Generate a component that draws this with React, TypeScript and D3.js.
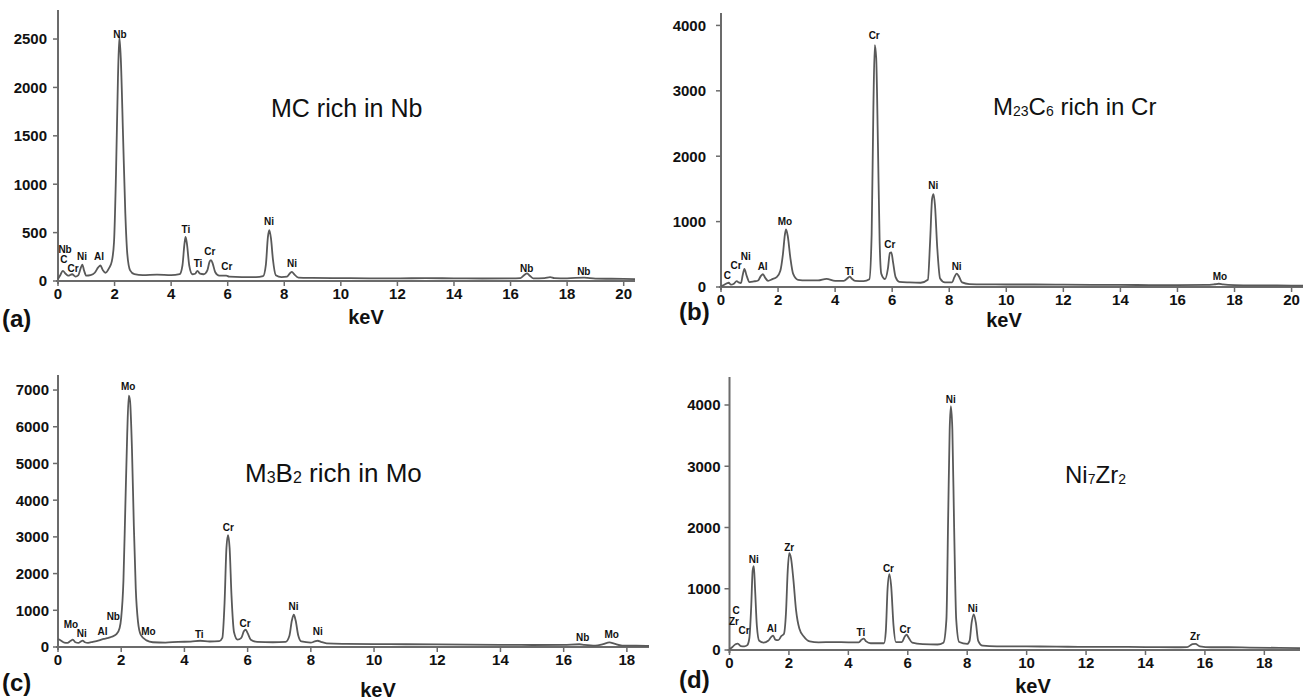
import React from 'react';
import * as d3 from 'd3';

// EDS spectra: [keV, counts]
const spectrumA: [number, number][] = [
  [0.0, 20], [0.08, 60], [0.17, 105], [0.27, 75], [0.36, 55], [0.5, 70], [0.62, 45], [0.72, 60],
  [0.8, 130], [0.86, 170], [0.92, 110], [1.0, 55], [1.15, 60], [1.3, 85], [1.42, 140], [1.5, 160],
  [1.58, 115], [1.68, 85], [1.8, 130], [1.9, 200], [1.98, 400], [2.05, 1100], [2.12, 2100], [2.17, 2520],
  [2.22, 2300], [2.3, 1500], [2.38, 700], [2.45, 280], [2.55, 110], [2.7, 70], [3.0, 60], [3.5, 65],
  [4.0, 60], [4.3, 70], [4.4, 160], [4.47, 380], [4.51, 455], [4.56, 380], [4.64, 160], [4.75, 70],
  [4.85, 75], [4.93, 105], [5.02, 75], [5.15, 70], [5.28, 110], [5.36, 200], [5.41, 215], [5.47, 180],
  [5.56, 90], [5.7, 55], [5.95, 55], [6.05, 45], [6.5, 40], [7.0, 40], [7.25, 50], [7.35, 170],
  [7.42, 450], [7.47, 525], [7.53, 440], [7.6, 220], [7.7, 60], [7.9, 40], [8.1, 45], [8.2, 80],
  [8.27, 95], [8.35, 70], [8.5, 35], [9.0, 32], [10.0, 30], [11.0, 28], [12.0, 27], [13.0, 30],
  [14.0, 27], [15.0, 26], [16.0, 27], [16.35, 30], [16.5, 65], [16.58, 78], [16.66, 60], [16.8, 28],
  [17.2, 30], [17.4, 40], [17.55, 30], [18.0, 28], [18.6, 35], [19.0, 25], [20.0, 22], [20.4, 20],
];

const spectrumB: [number, number][] = [
  [0.0, 10], [0.1, 30], [0.2, 55], [0.27, 65], [0.35, 35], [0.45, 50], [0.55, 90], [0.62, 70],
  [0.7, 60], [0.76, 180], [0.82, 275], [0.9, 170], [1.0, 75], [1.15, 85], [1.3, 100], [1.4, 170],
  [1.47, 195], [1.55, 140], [1.65, 95], [1.8, 120], [1.95, 150], [2.08, 250], [2.17, 500], [2.24, 800],
  [2.28, 880], [2.34, 780], [2.43, 450], [2.53, 200], [2.7, 110], [3.0, 100], [3.4, 100], [3.7, 125],
  [4.0, 95], [4.3, 95], [4.45, 140], [4.51, 160], [4.58, 130], [4.7, 95], [5.0, 90], [5.2, 120],
  [5.28, 800], [5.34, 2700], [5.39, 3700], [5.44, 3500], [5.5, 2200], [5.56, 700], [5.62, 200], [5.75, 120],
  [5.85, 280], [5.92, 520], [5.97, 530], [6.03, 380], [6.12, 150], [6.25, 80], [6.6, 70], [7.0, 65],
  [7.25, 110], [7.33, 700], [7.4, 1350], [7.45, 1420], [7.5, 1250], [7.58, 600], [7.68, 130], [7.85, 70],
  [8.1, 70], [8.18, 150], [8.26, 205], [8.33, 170], [8.45, 70], [8.7, 45], [9.5, 40], [10, 38],
  [11, 38], [12, 35], [13, 33], [14, 32], [15, 30], [16, 30], [17, 32], [17.3, 42],
  [17.45, 50], [17.6, 40], [18, 30], [19, 25], [20, 22], [20.4, 20],
];

const spectrumC: [number, number][] = [
  [0.0, 220], [0.1, 170], [0.2, 120], [0.3, 110], [0.4, 170], [0.47, 200], [0.55, 130], [0.65, 110],
  [0.72, 150], [0.78, 175], [0.85, 130], [0.95, 115], [1.1, 140], [1.3, 180], [1.45, 220], [1.55, 240],
  [1.7, 280], [1.85, 350], [1.95, 520], [2.0, 800], [2.07, 1800], [2.13, 3800], [2.19, 5800], [2.24, 6850],
  [2.28, 6700], [2.34, 5400], [2.4, 3300], [2.46, 1600], [2.53, 700], [2.62, 330], [2.8, 180], [3.0, 130],
  [3.4, 120], [3.8, 140], [4.2, 145], [4.5, 170], [4.8, 150], [5.1, 160], [5.2, 250], [5.27, 1200],
  [5.33, 2700], [5.38, 3050], [5.43, 2700], [5.49, 1400], [5.57, 400], [5.68, 200], [5.8, 250], [5.88, 430],
  [5.94, 470], [6.0, 380], [6.1, 200], [6.3, 140], [6.8, 130], [7.2, 140], [7.32, 300], [7.4, 720],
  [7.46, 880], [7.52, 720], [7.6, 320], [7.7, 150], [8.0, 120], [8.12, 150], [8.22, 170], [8.32, 140],
  [8.5, 100], [9, 85], [10, 80], [11, 75], [12, 70], [13, 65], [14, 60], [15, 55],
  [16, 60], [16.5, 75], [16.65, 60], [17.0, 40], [17.25, 80], [17.45, 125], [17.6, 90], [17.85, 40],
  [18.3, 35], [18.7, 30],
];

const spectrumD: [number, number][] = [
  [0.0, 15], [0.1, 50], [0.2, 95], [0.28, 105], [0.38, 65], [0.5, 60], [0.6, 80], [0.67, 200],
  [0.73, 700], [0.78, 1300], [0.82, 1370], [0.86, 1000], [0.92, 400], [1.0, 150], [1.15, 120], [1.3, 150],
  [1.4, 210], [1.47, 235], [1.54, 170], [1.64, 160], [1.75, 230], [1.83, 260], [1.9, 600], [1.96, 1300],
  [2.01, 1580], [2.07, 1500], [2.15, 1150], [2.24, 650], [2.35, 350], [2.5, 220], [2.7, 140], [3.0, 125],
  [3.5, 130], [4.0, 125], [4.35, 125], [4.45, 170], [4.52, 185], [4.6, 140], [4.75, 110], [5.2, 110],
  [5.26, 300], [5.32, 1000], [5.38, 1240], [5.44, 1050], [5.52, 400], [5.6, 130], [5.8, 130], [5.9, 220],
  [5.96, 250], [6.03, 200], [6.15, 120], [6.5, 95], [7.0, 90], [7.2, 120], [7.3, 500], [7.36, 2200],
  [7.41, 3600], [7.45, 3980], [7.5, 3600], [7.56, 2000], [7.63, 500], [7.73, 130], [8.0, 100], [8.08, 150],
  [8.15, 450], [8.22, 580], [8.29, 450], [8.37, 150], [8.52, 70], [9.0, 60], [10, 58], [11, 55],
  [12, 50], [13, 50], [14, 48], [15, 45], [15.4, 48], [15.58, 95], [15.68, 100], [15.83, 60],
  [16.2, 45], [16.8, 45], [17.5, 40], [18.5, 35], [19.2, 30],
];

// Peak annotations: [label, keV, counts]
const peaksA: [string, number, number][] = [
  ['Nb', 2.19, 2552], ['Nb', 0.25, 330], ['C', 0.21, 217], ['Cr', 0.53, 134], ['Ni', 0.85, 258],
  ['Al', 1.45, 248], ['Ti', 4.52, 527], ['Ti', 4.95, 176], ['Cr', 5.37, 300], ['Cr', 5.97, 145],
  ['Ni', 7.46, 610], ['Ni', 8.27, 176], ['Nb', 16.57, 134], ['Nb', 18.59, 93],
];
const peaksB: [string, number, number][] = [
  ['C', 0.22, 172], ['Cr', 0.53, 330], ['Ni', 0.87, 467], ['Al', 1.46, 315], ['Mo', 2.24, 1002],
  ['Ti', 4.5, 238], ['Cr', 5.37, 3852], ['Cr', 5.92, 646], ['Ni', 7.44, 1551], ['Ni', 8.26, 315],
  ['Mo', 17.49, 162],
];
const peaksC: [string, number, number][] = [
  ['Mo', 0.41, 626], ['Ni', 0.75, 362], ['Al', 1.41, 425], ['Nb', 1.75, 833], ['Mo', 2.22, 7110],
  ['Mo', 2.86, 425], ['Ti', 4.47, 354], ['Cr', 5.39, 3254], ['Cr', 5.92, 653], ['Ni', 7.45, 1105],
  ['Ni', 8.22, 425], ['Nb', 16.6, 261], ['Mo', 17.52, 335],
];
const peaksD: [string, number, number][] = [
  ['C', 0.22, 642], ['Zr', 0.15, 462], ['Cr', 0.49, 315], ['Ni', 0.82, 1480], ['Al', 1.42, 354],
  ['Zr', 2.01, 1670], ['Ti', 4.42, 282], ['Cr', 5.35, 1334], ['Cr', 5.91, 338], ['Ni', 7.45, 4093],
  ['Ni', 8.19, 681], ['Zr', 15.67, 228],
];

const xTicks20 = [0, 2, 4, 6, 8, 10, 12, 14, 16, 18, 20];
const xTicks18 = [0, 2, 4, 6, 8, 10, 12, 14, 16, 18];
const yTicksA = [0, 500, 1000, 1500, 2000, 2500];
const yTicksB = [0, 1000, 2000, 3000, 4000];
const yTicksC = [0, 1000, 2000, 3000, 4000, 5000, 6000, 7000];
const yTicksD = [0, 1000, 2000, 3000, 4000];

type Seg = { t: string; sub?: boolean };

const panels = [
  {
    key: 'a', data: spectrumA, peaks: peaksA, xTicks: xTicks20, yTicks: yTicksA,
    xDomain: [0, 20.4], xRange: [58, 635], yDomain: [0, 2800], yRange: [281, 10],
    title: [{ t: 'MC rich in Nb' }] as Seg[], titlePos: [271, 117], titleSize: 25,
    letter: '(a)', letterPos: [2, 327], kevPos: [366, 324], yGap: 11,
  },
  {
    key: 'b', data: spectrumB, peaks: peaksB, xTicks: xTicks20, yTicks: yTicksB,
    xDomain: [0, 20.4], xRange: [721, 1303], yDomain: [0, 4190], yRange: [287, 13],
    title: [{ t: 'M' }, { t: '23', sub: true }, { t: 'C' }, { t: '6', sub: true }, { t: ' rich in Cr' }] as Seg[],
    titlePos: [993, 115], titleSize: 24, letter: '(b)', letterPos: [679, 320], kevPos: [1004, 327], yGap: 15,
  },
  {
    key: 'c', data: spectrumC, peaks: peaksC, xTicks: xTicks18, yTicks: yTicksC,
    xDomain: [0, 18.7], xRange: [58, 649], yDomain: [0, 7410], yRange: [647, 375],
    title: [{ t: 'M' }, { t: '3', sub: true }, { t: 'B' }, { t: '2', sub: true }, { t: ' rich in Mo' }] as Seg[],
    titlePos: [245, 482], titleSize: 26, letter: '(c)', letterPos: [2, 691], kevPos: [378, 697], yGap: 9,
  },
  {
    key: 'd', data: spectrumD, peaks: peaksD, xTicks: xTicks18, yTicks: yTicksD,
    xDomain: [0, 19.2], xRange: [729.5, 1300], yDomain: [0, 4457], yRange: [650, 377],
    title: [{ t: 'Ni' }, { t: '7', sub: true }, { t: 'Zr' }, { t: '2', sub: true }] as Seg[],
    titlePos: [1065, 483], titleSize: 24, letter: '(d)', letterPos: [679, 688], kevPos: [1033, 693], yGap: 9,
  },
];

const AXIS = '#6b6b6b';
const LINE = '#595959';
const FONT = '"Liberation Sans", Arial, Helvetica, sans-serif';

function Panel({ p }: { p: (typeof panels)[number] }) {
  const x = d3.scaleLinear().domain(p.xDomain).range(p.xRange);
  const y = d3.scaleLinear().domain(p.yDomain).range(p.yRange);
  const line = d3.line<[number, number]>()
    .x(d => x(d[0]))
    .y(d => y(d[1]))
    .curve(d3.curveMonotoneX);
  const x0 = p.xRange[0];
  const y0 = p.yRange[0];
  const subSize = Math.round(p.titleSize * 0.6);

  return (
    <g>
      {/* axes */}
      <line x1={x0} x2={x0} y1={p.yRange[1]} y2={y0 + 3} stroke={AXIS} strokeWidth={2} />
      <line x1={x0 - 2} x2={p.xRange[1]} y1={y0} y2={y0} stroke={AXIS} strokeWidth={2} />
      {p.yTicks.map(t => (
        <g key={'y' + t}>
          <line x1={x0 - 5} x2={x0} y1={y(t)} y2={y(t)} stroke={AXIS} strokeWidth={1.5} />
          <text x={x0 - p.yGap} y={y(t)} dy="0.36em" textAnchor="end"
            fontSize={15} fontWeight="bold" fontFamily={FONT} fill="#111">{t}</text>
        </g>
      ))}
      {p.xTicks.map(t => (
        <g key={'x' + t}>
          <line x1={x(t)} x2={x(t)} y1={y0} y2={y0 + 5} stroke={AXIS} strokeWidth={1.5} />
          <text x={x(t)} y={y0 + 18} textAnchor="middle"
            fontSize={15} fontWeight="bold" fontFamily={FONT} fill="#111">{t}</text>
        </g>
      ))}

      {/* spectrum */}
      <path d={line(p.data) ?? ''} fill="none" stroke={LINE} strokeWidth={1.8} strokeLinejoin="round" />

      {/* peak labels */}
      {p.peaks.map(([lab, kev, c], i) => (
        <text key={'p' + i} x={x(kev)} y={y(c)} dy="0.35em" textAnchor="middle"
          fontSize={10} fontWeight="bold" fontFamily={FONT} fill="#111">{lab}</text>
      ))}

      {/* title */}
      <text x={p.titlePos[0]} y={p.titlePos[1]} fontSize={p.titleSize} fontFamily={FONT} fill="#111">
        {p.title.map((s, i) => (
          <tspan key={i} fontSize={s.sub ? subSize : p.titleSize}
            dy={s.sub ? 1 : (i > 0 && p.title[i - 1].sub ? -1 : 0)}>{s.t}</tspan>
        ))}
      </text>

      {/* axis name and panel letter */}
      <text x={p.kevPos[0]} y={p.kevPos[1]} textAnchor="middle" fontSize={20} fontWeight="bold"
        fontFamily={FONT} fill="#111">keV</text>
      <text x={p.letterPos[0]} y={p.letterPos[1]} fontSize={24} fontWeight="bold"
        fontFamily={FONT} fill="#111">{p.letter}</text>
    </g>
  );
}

export default function App() {
  return (
    <svg width={1304} height={700} style={{ position: 'absolute', left: 0, top: 0, background: '#fff' }}>
      <rect width={1304} height={700} fill="#fff" />
      {panels.map(p => <Panel key={p.key} p={p} />)}
    </svg>
  );
}
